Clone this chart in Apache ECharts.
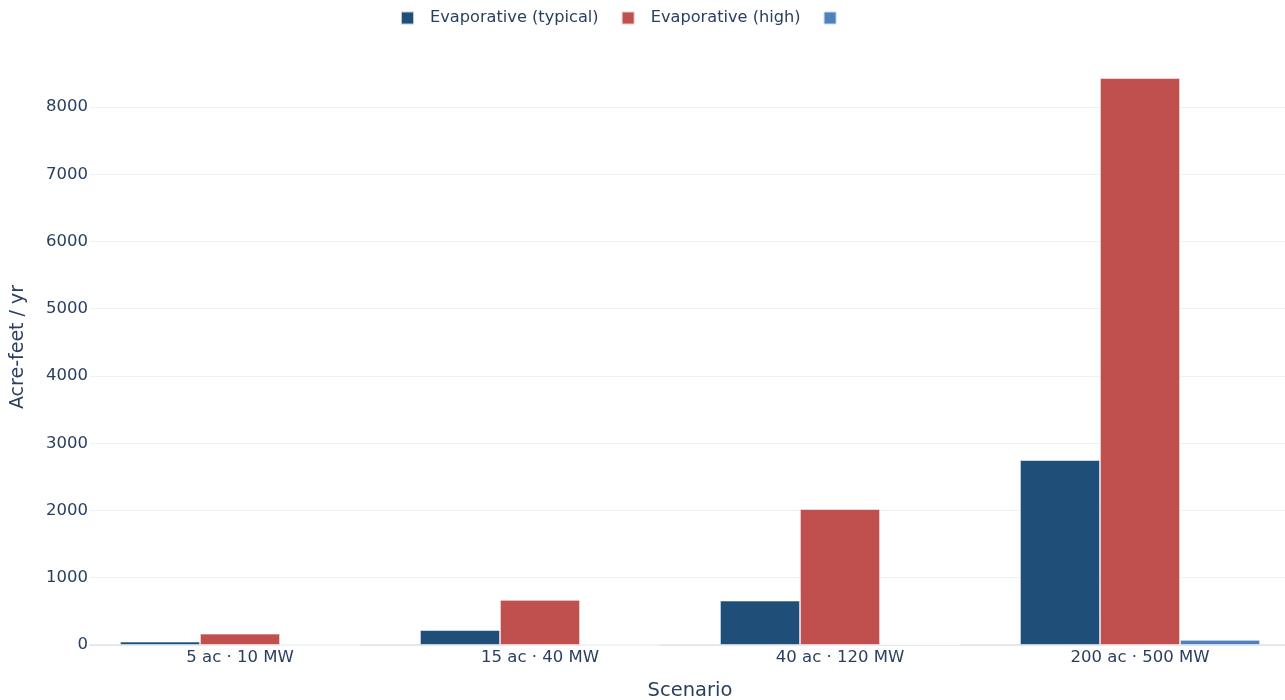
<!DOCTYPE html>
<html><head><meta charset="utf-8">
<script src="https://cdn.jsdelivr.net/npm/echarts@6/dist/echarts.min.js"></script>
<style>html,body{margin:0;padding:0;background:#fff}#c{width:1285px;height:700px}</style>
</head><body><div id="c"></div>
<script>
const categories = ['5 ac · 10 MW', '15 ac · 40 MW', '40 ac · 120 MW', '200 ac · 500 MW'];
const seriesNames = ['Evaporative (typical)', 'Evaporative (high)', ' '];
const typical = [50, 223, 660, 2750];
const high = [168, 670, 2022, 8431];
const third = [0.3, 1, 15, 75];
const yTicks = [0, 1000, 2000, 3000, 4000, 5000, 6000, 7000, 8000];

const colors = ['#1f4e79', '#c0504d', '#4f81bd'];
const font = 'DejaVu Sans';
const txt = '#2a3f5f';
const chart = echarts.init(document.getElementById('c'));
const mk = (name, data, color) => ({
  name, type: 'bar', data, barGap: '0%', barCategoryGap: '20%',
  itemStyle: {color, borderColor: 'rgba(255,255,255,0.7)', borderWidth: 0.8},
  emphasis: {disabled: true}
});
const gridColors = yTicks.map(() => '#eef1f6').concat(['rgba(0,0,0,0)']);
chart.setOption({
  animation: false,
  color: colors,
  textStyle: {fontFamily: font},
  legend: {
    top: 5, left: 395, icon: 'rect', itemWidth: 13, itemHeight: 13, itemGap: 22,
    textStyle: {color: txt, fontSize: 16.2, fontFamily: font, padding: [0, 0, 0, 11]},
    data: seriesNames
  },
  grid: {left: 90, top: 49, width: 1200, height: 596, containLabel: false, outerBoundsMode: 'none'},
  xAxis: {
    type: 'category', data: categories,
    name: 'Scenario', nameLocation: 'middle', nameGap: 36,
    nameTextStyle: {color: txt, fontSize: 19.5, fontFamily: font},
    axisLine: {show: true, lineStyle: {color: '#e3e8f0', width: 2}},
    axisTick: {show: false},
    axisLabel: {color: txt, fontSize: 16.5, fontFamily: font, margin: 4}
  },
  yAxis: {
    type: 'value', min: 0, max: 8862, interval: 1000,
    name: 'Acre-feet / yr', nameLocation: 'middle', nameGap: 62,
    nameTextStyle: {color: txt, fontSize: 19, fontFamily: font},
    axisLine: {show: false}, axisTick: {show: false},
    axisLabel: {color: txt, fontSize: 16.5, fontFamily: font, margin: 2,
      formatter: v => yTicks.includes(v) ? String(v) : ''},
    splitLine: {lineStyle: {color: gridColors, width: 1}}
  },
  series: [mk(seriesNames[0], typical, colors[0]), mk(seriesNames[1], high, colors[1]), mk(seriesNames[2], third, colors[2])]
});
</script></body></html>
